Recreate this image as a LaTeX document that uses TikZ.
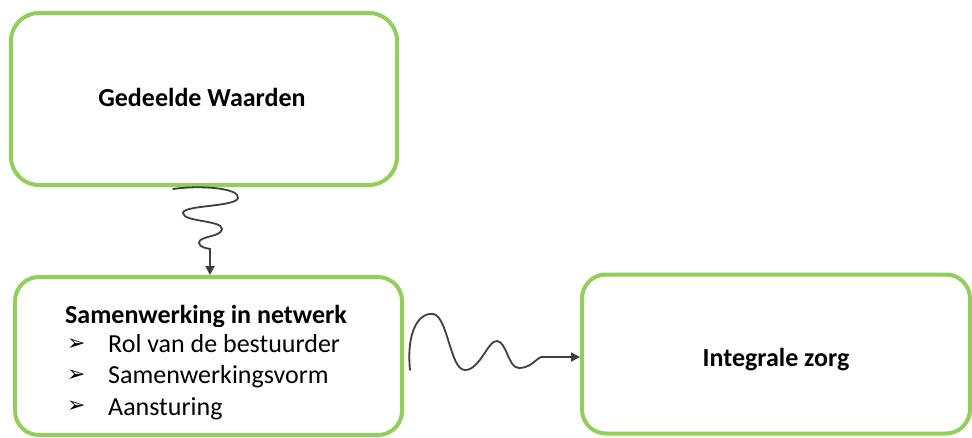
\documentclass[tikz,border=0pt]{standalone}
\usepackage{fontspec}
\setmainfont{Carlito}
\newfontfamily\symfont{DejaVu Sans}
\usetikzlibrary{arrows.meta}
\definecolor{boxgreen}{HTML}{92CF5A}
\definecolor{wavegray}{HTML}{3F3F3F}
\tikzset{
  stepbox/.style={draw=boxgreen, line width=4pt, rounded corners=28pt, fill=white, inner sep=0pt},
  squig/.style={draw=wavegray, line width=1.8pt, line cap=round,
    -{Triangle[length=9pt,width=9pt]}},
  boldlabel/.style={font=\fontsize{26}{30}\selectfont\bfseries, inner sep=0pt, anchor=base},
  listlabel/.style={font=\fontsize{26}{30}\selectfont, inner sep=0pt, anchor=base west},
  bulletmark/.style={font=\symfont\fontsize{22}{26}\selectfont, inner sep=0pt, anchor=base west}
}
\begin{document}
\begin{tikzpicture}[x=1pt,y=-1pt]
  \useasboundingbox (0,0) rectangle (972,437);

  % the three boxes
  \node[stepbox, minimum width=386pt, minimum height=172pt] (gw) at (204,99) {};
  \node[boldlabel] (gwtext) at (202,106) {Gedeelde Waarden};

  \node[stepbox, minimum width=387pt, minimum height=158pt, rounded corners=24pt] (nw) at (208.5,356) {};
  \begin{scope}
    \clip (0,0) rectangle (972,326.5);
    \node[boldlabel, anchor=base west] (nwtitle) at (65,323) {Samenwerking in netwerk};
  \end{scope}
  \node[bulletmark] (b1) at (67,350) {➢};
  \node[listlabel] (l1) at (108,352) {Rol van de bestuurder};
  \node[bulletmark] (b2) at (67,381) {➢};
  \node[listlabel] (l2) at (108,383.5) {Samenwerkingsvorm};
  \node[bulletmark] (b3) at (67,412.5) {➢};
  \node[listlabel] (l3) at (108,415) {Aansturing};

  \node[stepbox, minimum width=388pt, minimum height=159pt, rounded corners=24pt] (iz) at (776,354) {};
  \node[boldlabel] (iztext) at (776,366) {Integrale zorg};

  % wavy connectors
  \coordinate (k1) at (210,249);
  \coordinate (k2) at (541,357);
  \draw[squig] (173,189) .. controls (200,185) and (240,188) .. (238,198)
    .. controls (236,207) and (183,205) .. (183,213)
    .. controls (183,222) and (222,220) .. (222,229)
    .. controls (222,237) and (198,236) .. (199,243)
    .. controls (200,248) and (207,248) .. (k1)
    -- (k1 |- nw.north);
  \draw[squig] (410,370) .. controls (406,330) and (420,312) .. (433,314)
    .. controls (448,316) and (450,370) .. (465,370)
    .. controls (480,370) and (488,340) .. (497,341)
    .. controls (507,342) and (508,368) .. (519,368)
    .. controls (530,368) and (535,360) .. (k2)
    -- (k2 -| iz.west);
\end{tikzpicture}
\end{document}
